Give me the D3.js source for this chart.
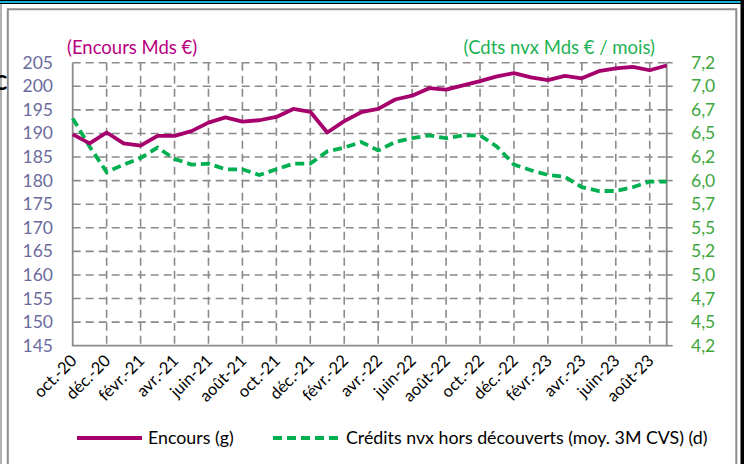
<!DOCTYPE html>
<html><head><meta charset="utf-8">
<script src="https://cdn.jsdelivr.net/npm/d3@7"></script>
<style>body{margin:0;background:#fff}svg{display:block}text{font-family:Lato,"Open Sans",sans-serif}</style>
</head><body>
<svg id="c" width="747" height="464"></svg>
<script>
const months = ["oct.-20","nov.-20","déc.-20","janv.-21","févr.-21","mars-21","avr.-21","mai-21","juin-21","juil.-21","août-21","sept.-21",
"oct.-21","nov.-21","déc.-21","janv.-22","févr.-22","mars-22","avr.-22","mai-22","juin-22","juil.-22","août-22","sept.-22",
"oct.-22","nov.-22","déc.-22","janv.-23","févr.-23","mars-23","avr.-23","mai-23","juin-23","juil.-23","août-23","sept.-23"];
const encours = [189.8,187.9,190.2,187.9,187.4,189.5,189.5,190.5,192.3,193.4,192.5,192.8,
193.5,195.2,194.6,190.2,192.6,194.5,195.2,197.2,198.0,199.6,199.3,200.2,
201.1,202.1,202.8,201.9,201.3,202.2,201.7,203.2,203.8,204.1,203.4,204.4];
const credits = [6.66,6.36,6.09,6.17,6.24,6.35,6.23,6.17,6.18,6.12,6.12,6.06,
6.12,6.18,6.18,6.31,6.35,6.41,6.32,6.41,6.45,6.48,6.45,6.48,
6.48,6.36,6.17,6.11,6.06,6.04,5.93,5.89,5.89,5.93,5.99,5.99];
const leftTicks = [145,150,155,160,165,170,175,180,185,190,195,200,205];
const rightTicks = [4.25,4.5,4.75,5.0,5.25,5.5,5.75,6.0,6.25,6.5,6.75,7.0,7.25];
const rightTickLabels = ["4,2","4,5","4,7","5,0","5,2","5,5","5,7","6,0","6,2","6,5","6,7","7,0","7,2"];
const xTickLabels = months.filter((m,i)=>i%2===0);
const leftTitle = "(Encours Mds €)";
const rightTitle = "(Cdts nvx Mds € / mois)";
const seriesNames = ["Encours (g)","Crédits nvx hors découverts (moy. 3M CVS) (d)"];

const svg = d3.select("#c");
const L=72.7,R=666.7,T=62.7,B=345.7;
const x = d3.scalePoint().domain(months).range([L,R]);
const yL = d3.scaleLinear().domain([145,205]).range([B,T]);
const yR = d3.scaleLinear().domain([4.25,7.25]).range([B,T]);
const magenta="#A6006C", green="#00B050", grid="#8a8a8a";

// frames
svg.append("rect").attr("x",0).attr("y",0).attr("width",743).attr("height",4).attr("fill","#000");
svg.append("rect").attr("x",0).attr("y",1).attr("width",742).attr("height",2).attr("fill","#1BB3D3");
svg.append("rect").attr("x",740.5).attr("y",0).attr("width",3.5).attr("height",464).attr("fill","#000");
svg.append("line").attr("x1",1).attr("x2",1).attr("y1",4).attr("y2",464).attr("stroke","#999").attr("stroke-width",1.5);
svg.append("path").attr("d","M7.8,464V9.3H736.3V464").attr("fill","none").attr("stroke","#8c8c8c").attr("stroke-width",2);
svg.append("text").attr("x",-6).attr("y",90).attr("font-size",20).attr("font-weight","bold").attr("fill","#000").text("C");

// grid
const g = svg.append("g");
g.selectAll("line.h").data(leftTicks.slice(1)).join("line")
 .attr("x1",L).attr("x2",R).attr("y1",d=>yL(d)).attr("y2",d=>yL(d))
 .attr("stroke",grid).attr("stroke-width",1.6).attr("stroke-dasharray","8,5");
g.selectAll("line.v").data(xTickLabels.slice(1)).join("line")
 .attr("x1",d=>x(d)).attr("x2",d=>x(d)).attr("y1",T).attr("y2",B)
 .attr("stroke",grid).attr("stroke-width",1.6).attr("stroke-dasharray","8,5");

// axes lines
svg.append("path").attr("d",`M${L},${T}V${B}H${R}V${T}`).attr("fill","none").attr("stroke",grid).attr("stroke-width",1.8);
svg.selectAll("line.rt").data(rightTicks).join("line")
 .attr("x1",R).attr("x2",R+6).attr("y1",d=>yR(d)).attr("y2",d=>yR(d)).attr("stroke",grid).attr("stroke-width",1.6);

// tick labels
svg.selectAll("text.lt").data(leftTicks).join("text")
 .attr("x",53).attr("y",d=>yL(d)+6).attr("text-anchor","end").attr("font-size",17.5).attr("fill","#6B6B9E").text(d=>d);
svg.selectAll("text.rt").data(rightTicks).join("text")
 .attr("x",691).attr("y",d=>yR(d)+6).attr("font-size",17.5).attr("fill","#3DA63D").text((d,i)=>rightTickLabels[i]);
svg.selectAll("text.xt").data(xTickLabels).join("text")
 .attr("transform",d=>`translate(${x(d)+5},${B+16}) rotate(-45)`)
 .attr("text-anchor","end").attr("font-size",16.5).attr("fill","#000").text(d=>d);

// titles
svg.append("text").attr("x",67).attr("y",54).attr("font-size",18.5).attr("fill","#B8007F").text(leftTitle);
svg.append("text").attr("x",655).attr("y",54).attr("text-anchor","end").attr("font-size",18.5).attr("fill","#1DB355").text(rightTitle);

// lines
svg.append("path").datum(credits).attr("fill","none").attr("stroke",green).attr("stroke-width",3.8)
 .attr("stroke-dasharray","9,5").attr("d",d3.line().x((d,i)=>x(months[i])).y(d=>yR(d)));
svg.append("path").datum(encours).attr("fill","none").attr("stroke",magenta).attr("stroke-width",3.8)
 .attr("stroke-linejoin","round").attr("d",d3.line().x((d,i)=>x(months[i])).y(d=>yL(d)));

// legend
svg.append("line").attr("x1",77).attr("x2",142).attr("y1",438).attr("y2",438).attr("stroke",magenta).attr("stroke-width",4);
svg.append("text").attr("x",148).attr("y",444).attr("font-size",17.8).attr("fill","#000").text(seriesNames[0]);
svg.append("line").attr("x1",273).attr("x2",340).attr("y1",438).attr("y2",438).attr("stroke",green).attr("stroke-width",4).attr("stroke-dasharray","9,5");
svg.append("text").attr("x",346).attr("y",444).attr("font-size",17.8).attr("fill","#000").text(seriesNames[1]);
</script>
</body></html>
